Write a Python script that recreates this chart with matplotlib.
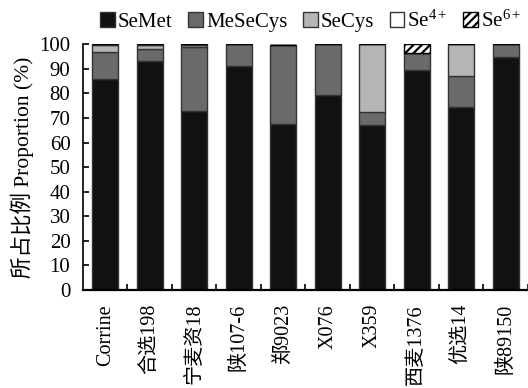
import numpy as np
import matplotlib
matplotlib.use("Agg")
import matplotlib.pyplot as plt
from matplotlib.ticker import FixedLocator, MultipleLocator

# Selenium species composition of wheat cultivars
categories = ['Corrine', '合选198', '宁麦资18', '陕107-6', '郑9023',
              'X076', 'X359', '西麦1376', '优选14', '陕89150']
semet = [86, 93, 73, 91, 67.5, 79.5, 67, 89.5, 74.5, 95]
mesecys = [11, 5, 26, 9, 32, 20.5, 5.5, 7, 12.5, 5]
secys = [2.5, 1.5, 0.5, 0, 0, 0, 27.5, 0, 13, 0]
se4 = [0.5, 0.5, 0.5, 0, 0, 0, 0, 0, 0, 0]
se6 = [0, 0, 0, 0, 0, 0, 0, 3.5, 0, 0]

series = [
    ('SeMet', semet, '#111111', None),
    ('MeSeCys', mesecys, '#6a6a6a', None),
    ('SeCys', secys, '#b5b5b5', None),
    ('Se$^{4+}$', se4, '#ffffff', None),
    ('Se$^{6+}$', se6, '#ffffff', '////'),
]

plt.rcParams['mathtext.fontset'] = 'custom'
plt.rcParams['mathtext.rm'] = 'Liberation Serif'
plt.rcParams['mathtext.it'] = 'Liberation Serif:italic'
plt.rcParams['hatch.linewidth'] = 1.6
fam = ['Liberation Serif', 'Noto Sans CJK SC']
fs = 15

fig = plt.figure(figsize=(5.28, 3.88), dpi=100)
ax = fig.add_axes([0.157, 0.2526, 0.843, 0.6334])

x = np.arange(len(categories))
bottom = np.zeros(len(categories))
handles = []
for name, vals, color, hatch in series:
    vals = np.asarray(vals, dtype=float)
    bars = ax.bar(x, vals, width=0.58, bottom=bottom, color=color,
                  edgecolor='#333333' if hatch is None else '#000000',
                  linewidth=1.0, hatch=hatch, label=name)
    handles.append(bars)
    bottom += vals

ax.set_xlim(-0.5, len(categories) - 0.5)
ax.set_ylim(0, 100)
ax.yaxis.set_major_locator(MultipleLocator(10))
ax.set_xticks(x)
ax.set_xticklabels(categories, rotation=90, family=fam, fontsize=14.5)
ax.xaxis.set_minor_locator(FixedLocator(np.arange(0.5, len(categories), 1)))
ax.tick_params(axis='x', which='major', length=0, pad=10)
ax.tick_params(axis='x', which='minor', direction='in', length=4, width=1.2)
ax.tick_params(axis='y', direction='in', length=4, width=1.2, pad=9)
for lab in ax.get_yticklabels():
    lab.set_family(fam)
    lab.set_fontsize(fs)

for side in ('top', 'right'):
    ax.spines[side].set_visible(False)
ax.spines['left'].set_linewidth(1.2)
ax.spines['bottom'].set_linewidth(1.6)

ax.set_ylabel('所占比例 Proportion (%)', family=fam, fontsize=15.5, labelpad=4)

fig.legend(handles=handles, loc='upper left', bbox_to_anchor=(0.17, 1.0),
           ncol=5, frameon=False, prop={'family': fam, 'size': fs},
           handlelength=0.7, handleheight=0.7, handletextpad=0.15,
           columnspacing=0.75, borderaxespad=0.2, borderpad=0.3)

fig.savefig('out.png', dpi=100)
